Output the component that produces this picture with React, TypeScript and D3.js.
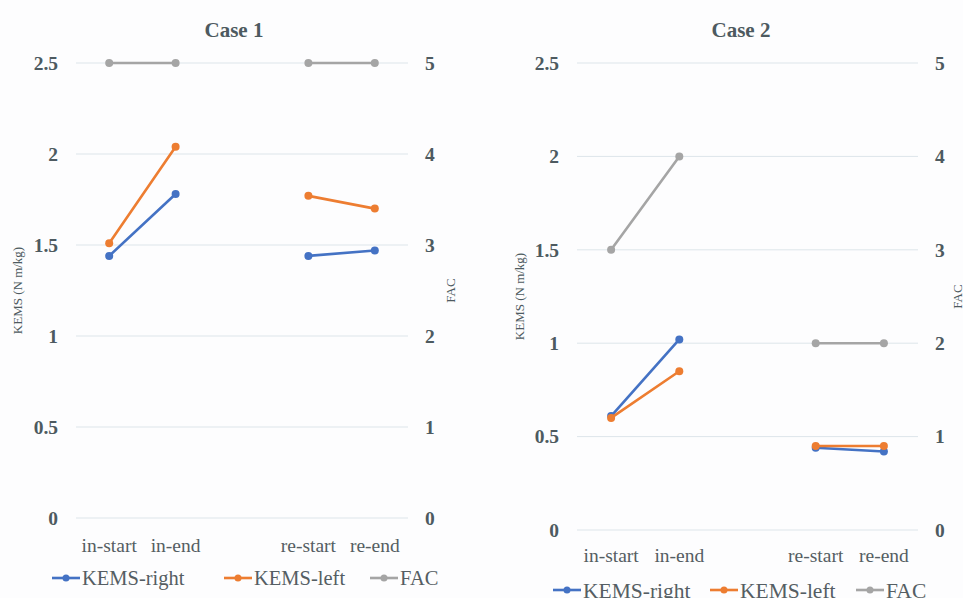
import React from 'react';
import * as d3 from 'd3';

const categories = ['in-start', 'in-end', '', 're-start', 're-end'];
const kemsTicks = [0, 0.5, 1, 1.5, 2, 2.5];
const facTicks = [0, 1, 2, 3, 4, 5];

// null = no point (the empty middle category)
const case1Right = [1.44, 1.78, null, 1.44, 1.47];
const case1Left = [1.51, 2.04, null, 1.77, 1.70];
const case1Fac = [5, 5, null, 5, 5];

const case2Right = [0.61, 1.02, null, 0.44, 0.42];
const case2Left = [0.60, 0.85, null, 0.45, 0.45];
const case2Fac = [3, 4, null, 2, 2];

const seriesNames = ['KEMS-right', 'KEMS-left', 'FAC'];
const colors = ['#4472C4', '#ED7D31', '#A5A5A5'];

const textColor = '#4d5a60';
const font = '"Liberation Serif", "Times New Roman", serif';

type PanelProps = {
  title: string;
  right: (number | null)[];
  left: (number | null)[];
  fac: (number | null)[];
  x0: number;
  x1: number;
  yTop: number;
  yBottom: number;
  titleX: number;
  kemsLabelX: number;
  facLabelX: number;
  catY: number;
  legendY: number;
  legendX: number[];
  legendSize: number;
};

const Panel = (p: PanelProps) => {
  const x = d3.scaleBand<number>().domain(d3.range(categories.length)).range([p.x0, p.x1]);
  const yK = d3.scaleLinear().domain([0, 2.5]).range([p.yBottom, p.yTop]);
  const yF = d3.scaleLinear().domain([0, 5]).range([p.yBottom, p.yTop]);
  const cx = (i: number) => (x(i) as number) + x.bandwidth() / 2;

  const line = (scale: d3.ScaleLinear<number, number>) =>
    d3.line<number | null>()
      .defined(d => d !== null)
      .x((_, i) => cx(i))
      .y(d => scale(d as number));

  const series = [
    { vals: p.right, scale: yK, color: colors[0] },
    { vals: p.left, scale: yK, color: colors[1] },
    { vals: p.fac, scale: yF, color: colors[2] },
  ];
  const midY = (p.yTop + p.yBottom) / 2;

  return (
    <g fontFamily={font} fill={textColor}>
      <text x={p.titleX} y={37} textAnchor="middle" fontSize={21} fontWeight="bold">{p.title}</text>
      {kemsTicks.map(t => (
        <g key={'k' + t}>
          <line x1={p.x0} x2={p.x1} y1={yK(t)} y2={yK(t)} stroke="#dde5ea" strokeWidth={1} />
          <text x={p.x0 - 18} y={yK(t)} dy="0.35em" textAnchor="end" fontSize={19.5} fontWeight="bold">{t}</text>
        </g>
      ))}
      {facTicks.map(t => (
        <text key={'f' + t} x={p.x1 + 17} y={yF(t)} dy="0.35em" textAnchor="start" fontSize={19.5} fontWeight="bold">{t}</text>
      ))}
      <text transform={`translate(${p.kemsLabelX},${midY}) rotate(-90)`} textAnchor="middle" fontSize={13}>KEMS (N m/kg)</text>
      <text transform={`translate(${p.facLabelX},${midY}) rotate(-90)`} textAnchor="middle" fontSize={13}>FAC</text>
      {categories.map((c, i) => (
        <text key={'c' + i} x={cx(i)} y={p.catY} dy="0.35em" textAnchor="middle" fontSize={19.5} fill="#555e63">{c}</text>
      ))}
      {series.map((s, si) => (
        <g key={'s' + si}>
          <path d={line(s.scale)(s.vals) || ''} fill="none" stroke={s.color} strokeWidth={2.6} />
          {s.vals.map((v, i) => v === null ? null : (
            <circle key={i} cx={cx(i)} cy={s.scale(v)} r={4} fill={s.color} />
          ))}
        </g>
      ))}
      {seriesNames.map((n, i) => (
        <g key={'l' + i} transform={`translate(${p.legendX[i]},${p.legendY})`}>
          <line x1={0} x2={28} y1={0} y2={0} stroke={colors[i]} strokeWidth={2.6} />
          <circle cx={14} cy={0} r={3.5} fill={colors[i]} />
          <text x={30} y={0} dy="0.35em" fontSize={p.legendSize} fill="#555e63">{n}</text>
        </g>
      ))}
    </g>
  );
};

const App = () => (
  <svg width={963} height={598} style={{ position: 'absolute', left: 0, top: 0, background: '#fdfdfe' }}>
    <rect width={963} height={598} fill="#fdfdfe" />
    <Panel title="Case 1" right={case1Right} left={case1Left} fac={case1Fac}
      x0={76} x1={408} yTop={63} yBottom={518} titleX={234}
      kemsLabelX={22} facLabelX={455} catY={545} legendY={578} legendX={[52, 224, 370]} legendSize={20.5} />
    <Panel title="Case 2" right={case2Right} left={case2Left} fac={case2Fac}
      x0={577} x1={918} yTop={63} yBottom={530} titleX={741}
      kemsLabelX={524} facLabelX={962} catY={555} legendY={590} legendX={[553, 710, 856]} legendSize={21.5} />
  </svg>
);

export default App;
